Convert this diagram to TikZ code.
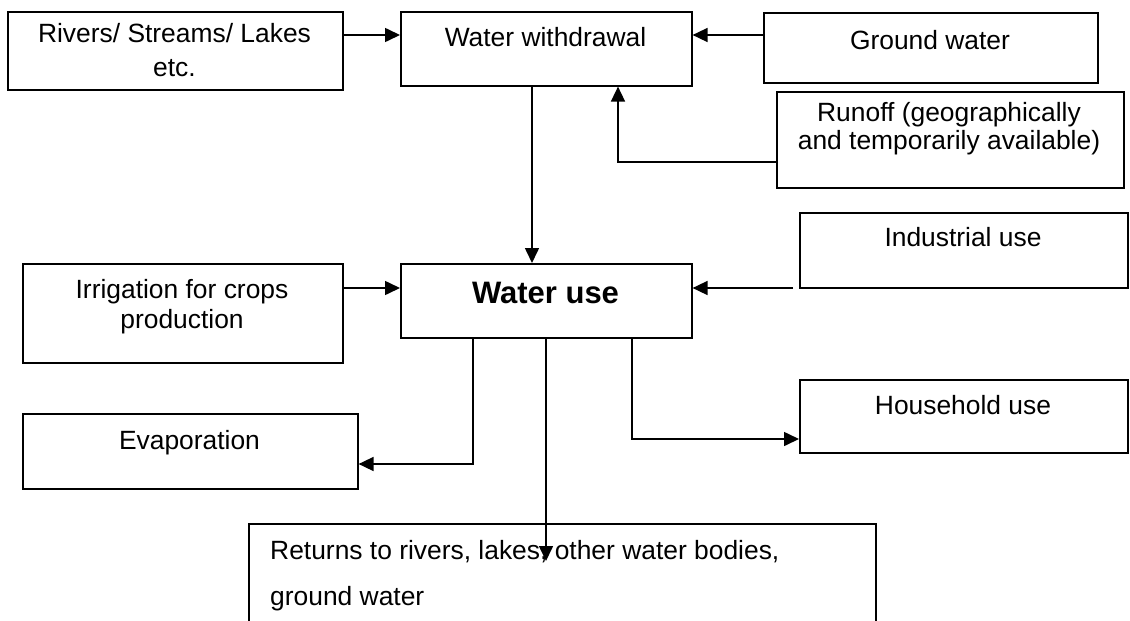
\documentclass[tikz,border=0pt]{standalone}
\usepackage{fontspec}
\setmainfont{Liberation Sans}
\usetikzlibrary{arrows.meta}
\tikzset{
  box/.style={draw, line width=1.6pt, rectangle, inner sep=0pt, anchor=north west},
  lbl/.style={font=\fontsize{26.4}{30}\selectfont, inner sep=0pt, anchor=base},
  lblw/.style={lbl, anchor=base west},
  big/.style={font=\fontsize{31}{35}\selectfont\bfseries, inner sep=0pt, anchor=base},
  conn/.style={line width=1.6pt},
  arr/.style={conn, -{Triangle[length=15pt,width=14pt]}}
}
\begin{document}
\begin{tikzpicture}[x=1pt,y=-1pt]
\fill[white] (0,0) rectangle (1130,621);
\clip (0,0) rectangle (1130,621);
% boxes
\node[box, minimum width=335pt, minimum height=78pt] (riv) at (7,11) {};
\node[box, minimum width=291pt, minimum height=74pt] (wd) at (400,11) {};
\node[box, minimum width=334pt, minimum height=70pt] (gw) at (763,12) {};
\node[box, minimum width=347pt, minimum height=96pt] (ro) at (776,91) {};
\node[box, minimum width=328pt, minimum height=75pt] (ind) at (799,212) {};
\node[box, minimum width=320pt, minimum height=99pt] (irr) at (22,263) {};
\node[box, minimum width=291pt, minimum height=74pt] (wu) at (400,263) {};
\node[box, minimum width=328pt, minimum height=73pt] (hh) at (799,379) {};
\node[box, minimum width=335pt, minimum height=75pt] (ev) at (22,413) {};
\node[box, minimum width=627pt, minimum height=140pt] (ret) at (248,523) {};
% texts
\node[lbl] (rivA) at (174.5,42) {Rivers/ Streams/ Lakes};
\node[lbl] (rivB) at (174.5,76) {etc.};
\node[lbl] (wdT) at (545.5,46) {Water withdrawal};
\node[lbl] (gwT) at (930,49) {Ground water};
\node[lbl] (roA) at (949,121) {Runoff (geographically};
\node[lbl] (roB) at (949,149) {and temporarily available)};
\node[lbl] (indT) at (963,246) {Industrial use};
\node[lbl] (irrA) at (182,298) {Irrigation for crops};
\node[lbl] (irrB) at (182,328) {production};
\node[big] (wuT) at (545.5,303) {Water use};
\node[lbl] (hhT) at (963,414) {Household use};
\node[lbl] (evT) at (189.5,449) {Evaporation};
\node[lblw] (retA) at (270,559) {Returns to rivers, lakes, other water bodies,};
\node[lblw] (retB) at (270,605) {ground water};
% connectors
\coordinate (indEnd) at (793,288);
\coordinate (roEnd) at (778,162);
\coordinate (retTip) at (546,561);
\draw[arr] (riv.east |- 0,35) -- (wd.west |- 0,35);
\draw[arr] (gw.west |- 0,35) -- (wd.east |- 0,35);
\draw[arr] (roEnd) -| (wd.south -| 618,0);
\draw[arr] (wd.south -| 532,0) -- (wu.north -| 532,0);
\draw[arr] (irr.east |- 0,288) -- (wu.west |- 0,288);
\draw[arr] (indEnd) -- (wu.east |- indEnd);
\draw[arr] (wu.south -| 473,0) |- (ev.east |- 0,464);
\draw[arr] (wu.south -| 632,0) |- (hh.west |- 0,439);
\draw[arr] (wu.south -| 546,0) -- (retTip);
\end{tikzpicture}
\end{document}
